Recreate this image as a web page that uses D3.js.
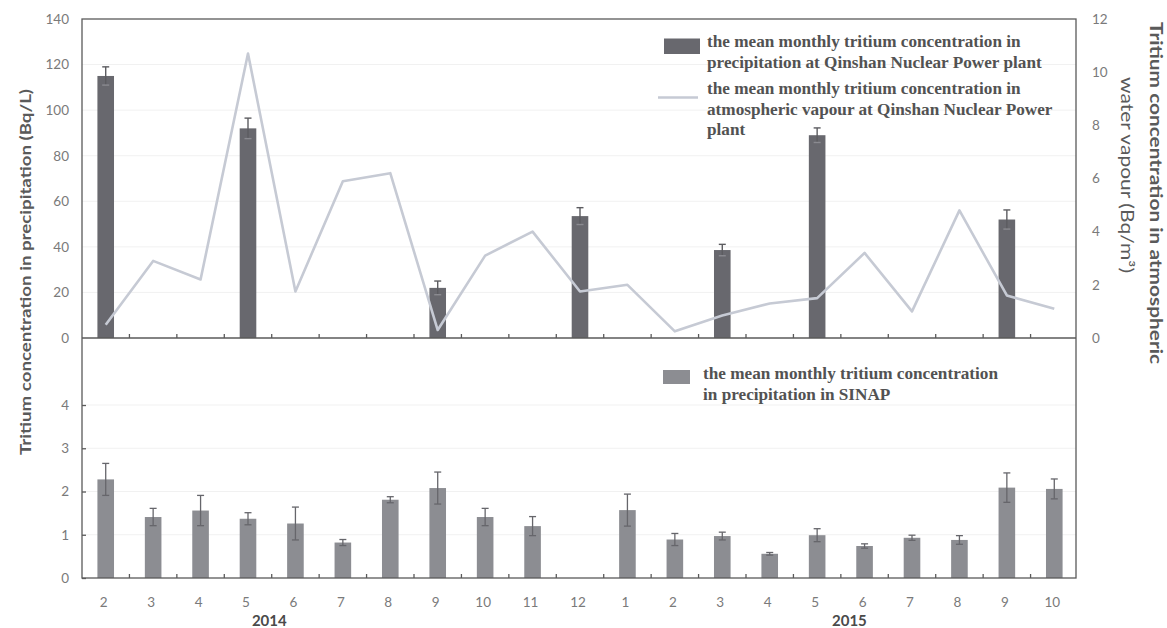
<!DOCTYPE html>
<html>
<head>
<meta charset="utf-8">
<script src="https://cdn.jsdelivr.net/npm/d3@7"></script>
<style>
  html, body { margin: 0; padding: 0; background: #fff; }
  svg { display: block; }
</style>
</head>
<body>
<svg id="chart" width="1167" height="628"></svg>
<script>
// Sampling months, Feb 2014 – Oct 2015
const periods = ["2014-02","2014-03","2014-04","2014-05","2014-06","2014-07","2014-08","2014-09","2014-10","2014-11","2014-12",
                 "2015-01","2015-02","2015-03","2015-04","2015-05","2015-06","2015-07","2015-08","2015-09","2015-10"];
const monthLabels = ["2","3","4","5","6","7","8","9","10","11","12","1","2","3","4","5","6","7","8","9","10"];

// Qinshan NPP precipitation (Bq/L), sampled months only
const qinshanMonths = ["2014-02","2014-05","2014-09","2014-12","2015-03","2015-05","2015-09"];
const qinshanPrecip = [115, 92, 22, 53.5, 38.6, 89, 52];
const qinshanPrecipErr = [4, 4.5, 3, 3.7, 2.5, 3.2, 4.2];

// Qinshan NPP atmospheric water vapour (Bq/m3)
const qinshanVapour = [0.5, 2.9, 2.2, 10.7, 1.75, 5.9, 6.2, 0.3, 3.1, 4.0, 1.75, 2.0, 0.25, 0.85, 1.3, 1.5, 3.2, 1.0, 4.8, 1.6, 1.1];

// SINAP precipitation (Bq/L); no sample in Dec 2014
const sinapPrecip = [2.28, 1.41, 1.56, 1.37, 1.26, 0.82, 1.81, 2.08, 1.41, 1.20, null, 1.57, 0.89, 0.97, 0.56, 0.99, 0.74, 0.93, 0.88, 2.09, 2.06];
const sinapPrecipErr = [0.37, 0.2, 0.35, 0.14, 0.38, 0.07, 0.07, 0.37, 0.2, 0.22, null, 0.37, 0.14, 0.09, 0.03, 0.15, 0.05, 0.06, 0.1, 0.34, 0.23];

const topTicks = [0, 20, 40, 60, 80, 100, 120, 140];
const rightTicks = [0, 2, 4, 6, 8, 10, 12];
const bottomTicks = [0, 1, 2, 3, 4];
const years = [{label: "2014", at: "2014-05", shift: 0.45}, {label: "2015", at: "2015-05", shift: 0.68}];

const svg = d3.select("#chart");
const L = 82, R = 1076, T = 19, MID = 338, B = 578;

const x = d3.scaleBand().domain(periods).range([L, 1078]).padding(0);
const barW = x.bandwidth() * 0.35;
const cx = p => x(p) + x.bandwidth() / 2;

const yTop = d3.scaleLinear().domain([0, 140]).range([MID, T]);
const yRight = d3.scaleLinear().domain([0, 12]).range([MID, T]);
const yBot = d3.scaleLinear().domain([0, 5.55]).range([B, MID]);

const tickFont = "Lato, 'Open Sans', sans-serif";
const tickColor = "#7a7a7a";
const frameColor = "#5a5a5a";

// faint horizontal gridlines
svg.append("g").selectAll("line").data(topTicks.slice(1, -1)).join("line")
  .attr("x1", L).attr("x2", R).attr("y1", d => yTop(d)).attr("y2", d => yTop(d))
  .attr("stroke", "#f1f1f1").attr("stroke-width", 1);
svg.append("g").selectAll("line").data(bottomTicks.slice(1)).join("line")
  .attr("x1", L).attr("x2", R).attr("y1", d => yBot(d)).attr("y2", d => yBot(d))
  .attr("stroke", "#f1f1f1").attr("stroke-width", 1);

// ---- top panel: Qinshan precipitation bars ----
const qData = qinshanMonths.map((p, i) => ({p, v: qinshanPrecip[i], e: qinshanPrecipErr[i]}));
svg.append("g").selectAll("rect").data(qData).join("rect")
  .attr("x", d => cx(d.p) - barW / 2).attr("width", barW)
  .attr("y", d => yTop(d.v)).attr("height", d => yTop(0) - yTop(d.v))
  .attr("fill", "#68686e");
const qErr = svg.append("g").attr("stroke", "#5c5c60").attr("stroke-width", 1.4);
qErr.selectAll("line.v").data(qData).join("line").attr("class", "v")
  .attr("x1", d => cx(d.p)).attr("x2", d => cx(d.p))
  .attr("y1", d => yTop(d.v + d.e)).attr("y2", d => yTop(d.v - d.e));
qErr.selectAll("line.c").data(qData).join("line").attr("class", "c")
  .attr("x1", d => cx(d.p) - 3.5).attr("x2", d => cx(d.p) + 3.5)
  .attr("y1", d => yTop(d.v + d.e)).attr("y2", d => yTop(d.v + d.e));
qErr.selectAll("line.b").data(qData).join("line").attr("class", "b")
  .attr("stroke", "#8a8a90")
  .attr("x1", d => cx(d.p) - 3.5).attr("x2", d => cx(d.p) + 3.5)
  .attr("y1", d => yTop(d.v - d.e)).attr("y2", d => yTop(d.v - d.e));

// ---- top panel: vapour line (right axis) ----
svg.append("path")
  .datum(qinshanVapour)
  .attr("fill", "none").attr("stroke", "#c6cad4").attr("stroke-width", 2.6)
  .attr("stroke-linejoin", "round")
  .attr("d", d3.line().x((d, i) => cx(periods[i])).y(d => yRight(d)));

// ---- bottom panel: SINAP bars ----
const sData = periods.map((p, i) => ({p, v: sinapPrecip[i], e: sinapPrecipErr[i]})).filter(d => d.v != null);
svg.append("g").selectAll("rect").data(sData).join("rect")
  .attr("x", d => cx(d.p) - barW / 2).attr("width", barW)
  .attr("y", d => yBot(d.v)).attr("height", d => yBot(0) - yBot(d.v))
  .attr("fill", "#8c8d92");
const sErr = svg.append("g").attr("stroke", "#66666b").attr("stroke-width", 1.3);
sErr.selectAll("line.v").data(sData).join("line").attr("class", "v")
  .attr("x1", d => cx(d.p)).attr("x2", d => cx(d.p))
  .attr("y1", d => yBot(d.v + d.e)).attr("y2", d => yBot(d.v - d.e));
sErr.selectAll("line.c").data(sData).join("line").attr("class", "c")
  .attr("x1", d => cx(d.p) - 3.5).attr("x2", d => cx(d.p) + 3.5)
  .attr("y1", d => yBot(d.v + d.e)).attr("y2", d => yBot(d.v + d.e));
sErr.selectAll("line.b").data(sData).join("line").attr("class", "b")
  .attr("x1", d => cx(d.p) - 3.5).attr("x2", d => cx(d.p) + 3.5)
  .attr("y1", d => yBot(d.v - d.e)).attr("y2", d => yBot(d.v - d.e));

// ---- frame ----
const frame = svg.append("g").attr("stroke", frameColor).attr("stroke-width", 1.3).attr("fill", "none");
frame.append("rect").attr("x", L).attr("y", T).attr("width", R - L).attr("height", B - T);
frame.append("line").attr("x1", L).attr("x2", R).attr("y1", MID).attr("y2", MID);

// month boundary ticks on both baselines
const bounds = periods.slice(1).map(p => x(p));
[MID, B].forEach(y0 => {
  svg.append("g").selectAll("line").data(bounds).join("line")
    .attr("x1", d => d).attr("x2", d => d).attr("y1", y0).attr("y2", y0 - 4)
    .attr("stroke", frameColor).attr("stroke-width", 1.3);
});

function styleAxis(g) {
  g.select(".domain").remove();
  g.selectAll("text").attr("font-family", tickFont).attr("font-size", 13.5).attr("fill", tickColor);
  g.selectAll("line").attr("stroke", frameColor).attr("stroke-width", 1.3);
}

svg.append("g").attr("transform", `translate(${L},0)`)
  .call(d3.axisLeft(yTop).tickValues(topTicks).tickSize(0).tickPadding(13))
  .call(styleAxis);
svg.append("g").attr("transform", `translate(${R},0)`)
  .call(d3.axisRight(yRight).tickValues(rightTicks).tickSize(0).tickPadding(16))
  .call(styleAxis);
svg.append("g").attr("transform", `translate(${L},0)`)
  .call(d3.axisLeft(yBot).tickValues(bottomTicks).tickFormat(d3.format("d"))
    .tickSizeInner(-4).tickSizeOuter(0).tickPadding(13))
  .call(styleAxis);
svg.append("g").attr("transform", `translate(-2,${B})`)
  .call(d3.axisBottom(x).tickFormat((d, i) => monthLabels[i]).tickSize(0).tickPadding(19))
  .call(styleAxis);

// year labels
svg.append("g").selectAll("text").data(years).join("text")
  .attr("x", d => cx(d.at) + x.step() * d.shift).attr("y", 626)
  .attr("text-anchor", "middle")
  .attr("font-family", tickFont).attr("font-weight", 700).attr("font-size", 15)
  .attr("fill", "#4a4a4a").text(d => d.label);

// axis titles
const titleFont = "Lato, 'Open Sans', sans-serif";
svg.append("text")
  .attr("transform", "translate(31,272) rotate(-90)")
  .attr("text-anchor", "middle")
  .attr("font-family", titleFont).attr("font-weight", 700).attr("font-size", 15.5)
  .attr("textLength", 366).attr("lengthAdjust", "spacingAndGlyphs")
  .attr("fill", "#5a5a5a")
  .text("Tritium concentration in precipitation (Bq/L)");
svg.append("text")
  .attr("transform", "translate(1150,22) rotate(90)")
  .attr("font-family", titleFont).attr("font-weight", 700).attr("font-size", 16.5)
  .attr("textLength", 342).attr("lengthAdjust", "spacingAndGlyphs")
  .attr("fill", "#5a5a5a")
  .text("Tritium concentration in atmospheric");
svg.append("text")
  .attr("transform", "translate(1121,77) rotate(90)")
  .attr("font-family", titleFont).attr("font-weight", 400).attr("font-size", 17)
  .attr("textLength", 196).attr("lengthAdjust", "spacingAndGlyphs")
  .attr("fill", "#5a5a5a")
  .text("water vapour (Bq/m³)");

// legends
const legFont = "'Liberation Serif', 'Times New Roman', serif";
const legColor = "#525252";
function legendText(x0, y0, lines) {
  const t = svg.append("text").attr("font-family", legFont).attr("font-weight", 700)
    .attr("font-size", 17.2).attr("fill", legColor);
  lines.forEach((s, i) => t.append("tspan").attr("x", x0).attr("y", y0 + i * 20.5).text(s));
}
svg.append("rect").attr("x", 664).attr("y", 38.5).attr("width", 36).attr("height", 15.5).attr("fill", "#68686e");
legendText(707, 47, ["the mean monthly tritium concentration in", "precipitation at Qinshan Nuclear Power plant"]);
svg.append("line").attr("x1", 658).attr("x2", 698).attr("y1", 97.5).attr("y2", 97.5)
  .attr("stroke", "#c6cad4").attr("stroke-width", 2.4);
legendText(707, 94, ["the mean monthly tritium concentration in", "atmospheric vapour at Qinshan Nuclear Power", "plant"]);
svg.append("rect").attr("x", 663).attr("y", 370).attr("width", 27).attr("height", 14).attr("fill", "#8c8d92");
legendText(703, 379, ["the mean monthly tritium concentration", "in precipitation in SINAP"]);
</script>
</body>
</html>
